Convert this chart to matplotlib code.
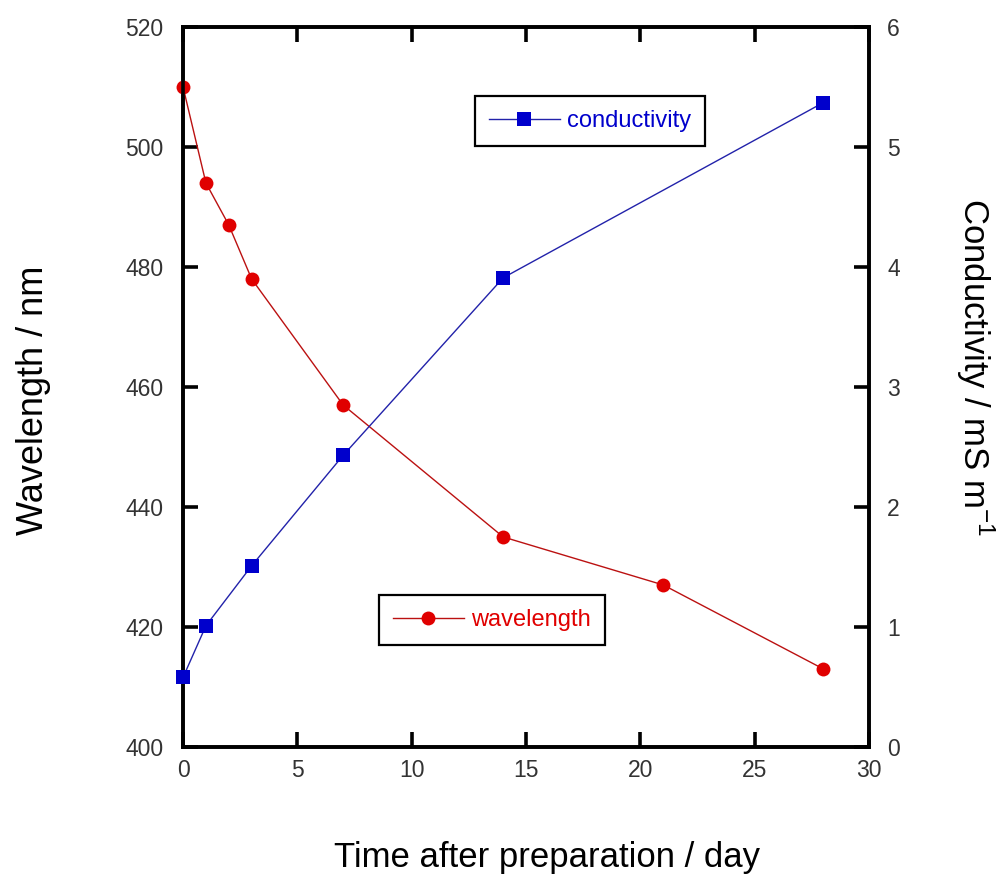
import matplotlib
matplotlib.use("Agg")

import matplotlib.pyplot as plt

plt.rcParams['font.family'] = ['Liberation Sans', 'DejaVu Sans']

# measurements vs. days after preparation
wl_days = [0, 1, 2, 3, 7, 14, 21, 28]
wavelength = [510, 494, 487, 478, 457, 435, 427, 413]

cond_days = [0, 1, 3, 7, 14, 28]
conductivity = [0.58, 1.01, 1.51, 2.43, 3.91, 5.37]

blue_line = '#2222aa'
blue = '#0000cc'
red_line = '#bb1111'
red = '#e00000'
grey = '#333333'

fig = plt.figure(figsize=(10.03, 8.76), dpi=100)
ax = fig.add_axes([0.1825, 0.1473, 0.684, 0.8219])
ax2 = ax.twinx()

ax.plot(wl_days, wavelength, color=red_line, lw=1, marker='o', ms=10,
        mfc=red, markeredgewidth=0, label='wavelength', clip_on=False,
        zorder=3)
ax2.plot(cond_days, conductivity, color=blue_line, lw=1, marker='s', ms=10,
         mfc=blue, markeredgewidth=0, label='conductivity', clip_on=False,
         zorder=3)

ax.set_xlim(0, 30)
ax.set_ylim(400, 520)
ax2.set_ylim(0, 6)
ax.set_xticks(range(0, 31, 5))
ax.set_yticks(range(400, 521, 20))
ax2.set_yticks(range(0, 7))

for a in (ax, ax2):
    for s in a.spines.values():
        s.set_linewidth(2.6)
        s.set_color('black')
ax.tick_params(axis='x', direction='in', length=11, width=2.6, top=True,
               labelsize=16.5, pad=9, labelcolor=grey)
ax.tick_params(axis='y', direction='in', length=11, width=2.6,
               labelsize=16.5, pad=14, labelcolor=grey)
ax2.tick_params(axis='y', direction='in', length=11, width=2.6,
                labelsize=16.5, pad=13, labelcolor=grey)

# axis titles placed in axes coordinates
ax.text(0.531, -0.153, 'Time after preparation / day', fontsize=25,
        ha='center', va='center', transform=ax.transAxes)
ax.text(-0.218, 0.482, 'Wavelength / nm', fontsize=26, rotation=90,
        ha='center', va='center', transform=ax.transAxes)
ax.text(1.155, 0.528, 'Conductivity / mS m$^{\\mathregular{-1}}$',
        fontsize=25, rotation=270, ha='center', va='center',
        transform=ax.transAxes)

leg_kw = dict(loc='center', fontsize=17, fancybox=False, edgecolor='black',
              handlelength=3, handletextpad=0.3, borderpad=0.6,
              borderaxespad=0, framealpha=1)

leg1 = ax2.legend(bbox_to_anchor=(0.593, 0.869), **leg_kw)
leg1.get_frame().set_linewidth(1.6)
for t in leg1.get_texts():
    t.set_color(blue)

leg2 = ax.legend(bbox_to_anchor=(0.45, 0.176), **leg_kw)
leg2.get_frame().set_linewidth(1.6)
for t in leg2.get_texts():
    t.set_color(red)

fig.savefig('out.png', dpi=100)
